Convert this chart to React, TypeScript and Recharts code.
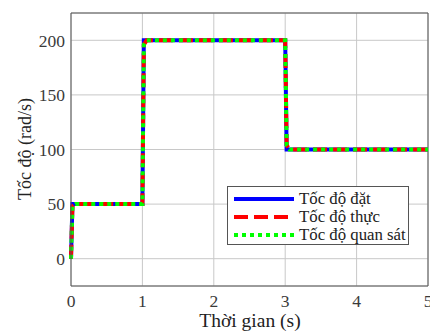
import { CartesianGrid, Line, LineChart, ReferenceLine, XAxis, YAxis } from "recharts";

const TIME = [0, 0.02, 0.06, 1, 1.02, 1.06, 3, 3.02, 3.06, 5];
const SET_SPEED = [0, 50, 50, 50, 200, 200, 200, 100, 100, 100];
const REAL_SPEED = [0, 48, 50, 50, 196, 200, 200, 104, 100, 100];
const OBS_SPEED = [0, 48, 50, 50, 196, 200, 200, 104, 100, 100];
const X_TICKS = [0, 1, 2, 3, 4, 5];
const Y_TICKS = [0, 50, 100, 150, 200];

const data = TIME.map((t, i) => ({
  t,
  set: SET_SPEED[i],
  real: REAL_SPEED[i],
  obs: OBS_SPEED[i],
}));

const FONT = "Liberation Serif, Times New Roman, serif";
const tickStyle = { fontFamily: FONT, fontSize: 17.5, fill: "#3a3a3a" };

const LEGEND = [
  { label: "Tốc độ đặt", color: "#0000ff", dash: undefined },
  { label: "Tốc độ thực", color: "#ff0000", dash: "14 6" },
  { label: "Tốc độ quan sát", color: "#00ff00", dash: "4 4" },
];

export default function App() {
  return (
    <div
      style={{
        position: "absolute",
        left: 0,
        top: 0,
        width: 430,
        height: 331,
        background: "#fff",
        fontFamily: FONT,
      }}
    >
      <LineChart
        width={430}
        height={331}
        data={data}
        margin={{ top: 13, right: 2, bottom: 0, left: 0 }}
        style={{ fontFamily: FONT }}
      >
        <CartesianGrid stroke="#c8c8c8" strokeWidth={1} />
        <XAxis
          dataKey="t"
          type="number"
          domain={[0, 5]}
          ticks={X_TICKS}
          height={45}
          tickSize={0}
          tickMargin={9}
          tick={tickStyle}
          stroke="#555"
          interval={0}
        />
        <YAxis
          type="number"
          domain={[-25, 225]}
          ticks={Y_TICKS}
          width={71}
          tickSize={0}
          tickMargin={6}
          tick={tickStyle}
          stroke="#555"
          interval={0}
        />
        <ReferenceLine x={5} stroke="#555" />
        <ReferenceLine y={225} stroke="#555" />
        <Line
          dataKey="set"
          stroke="#0000ff"
          strokeWidth={4}
          dot={false}
          isAnimationActive={false}
        />
        <Line
          dataKey="real"
          stroke="#ff0000"
          strokeWidth={4}
          strokeDasharray="14 6"
          dot={false}
          isAnimationActive={false}
        />
        <Line
          dataKey="obs"
          stroke="#00ff00"
          strokeWidth={4}
          strokeDasharray="4 4"
          dot={false}
          isAnimationActive={false}
        />
      </LineChart>

      <div
        style={{
          position: "absolute",
          left: 25,
          top: 149,
          transform: "translate(-50%, -50%) rotate(-90deg)",
          whiteSpace: "nowrap",
          fontSize: 18,
          lineHeight: "20px",
          color: "#222",
        }}
      >
        Tốc độ (rad/s)
      </div>
      <div
        style={{
          position: "absolute",
          left: 250,
          top: 311,
          transform: "translateX(-50%)",
          whiteSpace: "nowrap",
          fontSize: 19.5,
          lineHeight: "20px",
          color: "#222",
        }}
      >
        Thời gian (s)
      </div>

      <div
        style={{
          position: "absolute",
          left: 227,
          top: 186,
          width: 180,
          height: 57,
          border: "1px solid #555",
          background: "#fff",
        }}
      >
        {LEGEND.map((item, i) => (
          <div
            key={item.label}
            style={{
              position: "absolute",
              left: 5,
              top: 3 + i * 18,
              height: 18,
              display: "flex",
              alignItems: "center",
              whiteSpace: "nowrap",
            }}
          >
            <svg width={62} height={8}>
              <line
                x1={1}
                y1={4}
                x2={61}
                y2={4}
                stroke={item.color}
                strokeWidth={4}
                strokeDasharray={item.dash}
              />
            </svg>
            <span
              style={{
                marginLeft: 4,
                fontSize: 16.8,
                lineHeight: "18px",
                color: "#222",
              }}
            >
              {item.label}
            </span>
          </div>
        ))}
      </div>
    </div>
  );
}
